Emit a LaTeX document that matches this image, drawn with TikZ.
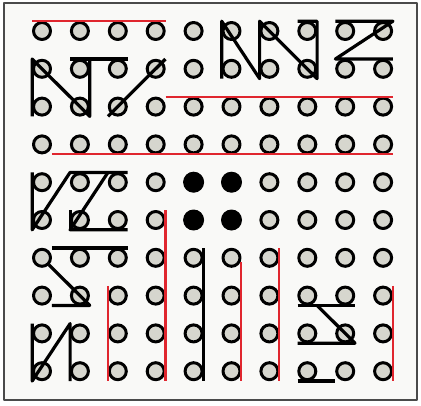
\documentclass[tikz,border=0pt]{standalone}
\usepackage{tikz}
\definecolor{pegfill}{HTML}{D6D6CE}
\definecolor{tapered}{HTML}{E0262E}
\definecolor{framegray}{HTML}{4A4A4A}
\definecolor{paper}{HTML}{F9F9F7}
\tikzset{
  every picture/.style={line join=round},
  peg/.style={circle, draw=black, fill=pegfill, line width=3pt, minimum size=17pt, inner sep=0pt, outer sep=1.3pt},
  wire/.style={black, line width=3.2pt},
  tape/.style={tapered, line width=2.2pt},
}
\begin{document}
\begin{tikzpicture}[x=1pt,y=-1pt]
\useasboundingbox (0,0) rectangle (421,405);
\draw[framegray,line width=1.4pt,fill=paper] (4,3) rectangle (417,400);
\foreach \i in {0,...,9}
  \foreach \j in {0,...,9}
    \node[peg] (c-\i-\j) at ({42+37.9*\i},{31+37.8*\j}) {};
\fill (c-4-4) circle (10.5pt);
\fill (c-5-4) circle (10.5pt);
\fill (c-4-5) circle (10.5pt);
\fill (c-5-5) circle (10.5pt);
\draw[wire] (c-0-2.west |- c-0-2.south) -- (c-0-1.west |- c-0-1.north) -- (c-1-2.east |- c-1-2.south) -- (c-1-1.east |- c-1-1.north);
\draw[wire] (c-1-1.west |- c-1-1.north) -- (c-2-1.east |- c-2-1.north);
\draw[wire] (c-3-1.east |- c-3-1.north) -- (c-2-2.west |- c-2-2.south);
\draw[wire] (c-5-1.west |- c-5-1.south) -- (c-5-0.west |- c-5-0.north) -- (c-6-1.west |- c-6-1.south) -- (c-6-0.west |- c-6-0.north) -- (c-7-1.east |- c-7-1.south) -- (c-7-0.east |- c-7-0.north) -- (c-7-0.west |- c-7-0.north);
\draw[wire] (c-8-0.west |- c-8-0.north) -- (c-9-0.east |- c-9-0.north) -- (c-8-1.west |- c-8-1.north) -- (c-9-1.east |- c-9-1.north);
\draw[wire] (c-0-4.west |- c-0-4.north) -- (c-0-5.west |- c-0-5.south) -- (c-1-4.west |- c-1-4.north) -- (c-2-4.east |- c-2-4.north);
\draw[wire] (c-2-4.west |- c-2-4.north) -- (c-1-5.west |- c-1-5.south) -- (c-2-5.east |- c-2-5.south);
\draw[wire] (c-1-5.west |- c-1-5.north) -- (c-1-5.west |- c-1-5.south);
\draw[wire] (c-0-6.east |- c-0-6.north) -- (c-2-6.east |- c-2-6.north);
\draw[wire] (c-0-6.south east) -- (c-1-7.east |- c-1-7.south) -- (c-0-7.east |- c-0-7.south);
\draw[wire] (c-0-8.west |- c-0-8.north) -- (c-0-9.west |- c-0-9.south) -- (c-1-8.west |- c-1-8.north) -- (c-1-9.west |- c-1-9.south);
\draw[wire] (c-4-6.east |- c-4-6.north) -- (c-4-9.east |- c-4-9.south);
\draw[wire] (c-7-7.west |- c-7-7.south) -- (c-8-7.east |- c-8-7.south);
\draw[wire] (c-7-7.east |- c-7-7.south) -- (c-8-8.east |- c-8-8.south) -- (c-7-8.west |- c-7-8.south);
\draw[wire] (c-7-9.west |- c-7-9.south) -- (c-8-9.west |- c-8-9.south);
\draw[tape] (c-0-0.west |- c-0-0.north) -- (c-3-0.east |- c-3-0.north);
\draw[tape] (c-3-2.east |- c-3-2.north) -- (c-9-2.east |- c-9-2.north);
\draw[tape] (c-0-3.east |- c-0-3.south) -- (c-9-3.east |- c-9-3.south);
\draw[tape] (c-2-7.west |- c-2-7.north) -- (c-2-9.west |- c-2-9.south);
\draw[tape] (c-3-5.east |- c-3-5.north) -- (c-3-9.east |- c-3-9.south);
\draw[tape] ([yshift=-4pt]c-5-6.east) -- (c-5-9.east |- c-5-9.south);
\draw[tape] (c-6-6.east |- c-6-6.north) -- (c-6-9.east |- c-6-9.south);
\draw[tape] (c-9-7.east |- c-9-7.north) -- (c-9-9.east |- c-9-9.south);
\end{tikzpicture}
\end{document}
